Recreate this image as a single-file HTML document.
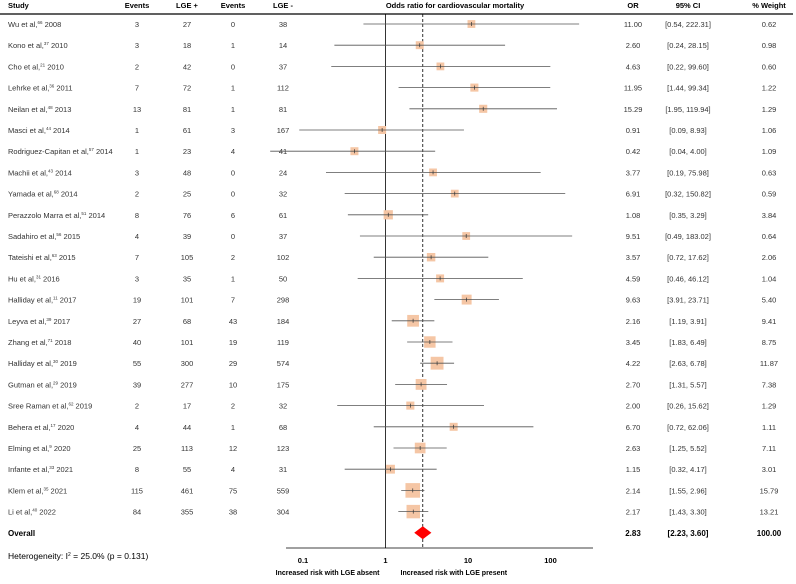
<!DOCTYPE html>
<html><head><meta charset="utf-8"><style>
body{margin:0;background:#fff;font-family:"Liberation Sans",Arial,sans-serif;}
svg text{font-family:"Liberation Sans",Arial,sans-serif;}
</style></head><body>
<svg id="chart" width="796" height="579" xmlns="http://www.w3.org/2000/svg"></svg>
<script>
const studies=["Wu et al,|66| 2008","Kono et al,|37| 2010","Cho et al,|21| 2010","Lehrke et al,|36| 2011","Neilan et al,|48| 2013","Masci et al,|44| 2014","Rodriguez-Capitan et al,|57| 2014","Machii et al,|43| 2014","Yamada et al,|68| 2014","Perazzolo Marra et al,|51| 2014","Sadahiro et al,|56| 2015","Tateishi et al,|63| 2015","Hu et al,|31| 2016","Halliday et al,|11| 2017","Leyva et al,|39| 2017","Zhang et al,|71| 2018","Halliday et al,|30| 2019","Gutman et al,|29| 2019","Sree Raman et al,|62| 2019","Behera et al,|17| 2020","Elming et al,|9| 2020","Infante et al,|33| 2021","Klem et al,|35| 2021","Li et al,|40| 2022"];
const eventsPos=[3,3,2,7,13,1,1,3,2,8,4,7,3,19,27,40,55,39,2,4,25,8,115,84];
const totalPos=[27,18,42,72,81,61,23,48,25,76,39,105,35,101,68,101,300,277,17,44,113,55,461,355];
const eventsNeg=[0,1,0,1,1,3,4,0,0,6,0,2,1,7,43,19,29,10,2,1,12,4,75,38];
const totalNeg=[38,14,37,112,81,167,41,24,32,61,37,102,50,298,184,119,574,175,32,68,123,31,559,304];
const orVals=[11.00,2.60,4.63,11.95,15.29,0.91,0.42,3.77,6.91,1.08,9.51,3.57,4.59,9.63,2.16,3.45,4.22,2.70,2.00,6.70,2.63,1.15,2.14,2.17];
const ciLow=[0.54,0.24,0.22,1.44,1.95,0.09,0.04,0.19,0.32,0.35,0.49,0.72,0.46,3.91,1.19,1.83,2.63,1.31,0.26,0.72,1.25,0.32,1.55,1.43];
const ciHigh=[222.31,28.15,99.60,99.34,119.94,8.93,4.00,75.98,150.82,3.29,183.02,17.62,46.12,23.71,3.91,6.49,6.78,5.57,15.62,62.06,5.52,4.17,2.96,3.30];
const weights=[0.62,0.98,0.60,1.22,1.29,1.06,1.09,0.63,0.59,3.84,0.64,2.06,1.04,5.40,9.41,8.75,11.87,7.38,1.29,1.11,7.11,3.01,15.79,13.21];
const overall=[2.83,2.23,3.60];
const ticks=[0.1,1,10,100];
const NS="http://www.w3.org/2000/svg";
const svg=document.getElementById('chart');
function xs(v){return 385.5+Math.log10(v)*82.5;}
function ys(i){return 24+i*21.2;}
function el(tag,attrs,txt){const e=document.createElementNS(NS,tag);for(const k in attrs)e.setAttribute(k,attrs[k]);if(txt!==undefined)e.textContent=txt;svg.appendChild(e);return e;}
function fmt(v){return v.toFixed(2);}
const hdr=[["Study",8,"start"],["Events",137,"middle"],["LGE +",187,"middle"],["Events",233,"middle"],["LGE -",283,"middle"],["Odds ratio for cardiovascular mortality",455,"middle"],["OR",633,"middle"],["95% CI",688,"middle"],["% Weight",769,"middle"]];
hdr.forEach(h=>{const t=el('text',{x:h[1],y:8,'font-size':7.5,'font-weight':'bold','text-anchor':h[2],fill:'#000'},h[0]);

});
let l=el('line',{x1:0,y1:14,x2:793,y2:14,stroke:'#000','stroke-width':1.3});


l=el('line',{x1:xs(1),y1:14,x2:xs(1),y2:548,stroke:'#000','stroke-width':0.8});


l=el('line',{x1:xs(overall[0]),y1:14,x2:xs(overall[0]),y2:548,stroke:'#000','stroke-width':0.8,'stroke-dasharray':'3,2'});


studies.forEach((s,i)=>{
 const y=ys(i);
 const p=s.split('|');
 const t=el('text',{x:8,y:y+3,'font-size':7.5,fill:'#333'});
 
 
 const a=document.createElementNS(NS,'tspan');a.textContent=p[0];t.appendChild(a);
 const b=document.createElementNS(NS,'tspan');b.textContent=p[1];b.setAttribute('font-size','4.5');b.setAttribute('dy','-3');t.appendChild(b);
 const c=document.createElementNS(NS,'tspan');c.textContent=p[2];c.setAttribute('dy','3');t.appendChild(c);
 [[eventsPos[i],137],[totalPos[i],187],[eventsNeg[i],233],[totalNeg[i],283],[fmt(orVals[i]),633],['['+fmt(ciLow[i])+', '+fmt(ciHigh[i])+']',688],[fmt(weights[i]),769]].forEach(v=>{
  const tt=el('text',{x:v[1],y:y+3,'font-size':7.5,'text-anchor':'middle',fill:'#333'},v[0]);
  
  
 });
 const sz=7.5+0.45*weights[i];
 const r=el('rect',{x:xs(orVals[i])-sz/2,y:y-sz/2,width:sz,height:sz,fill:'#f5c6a5'});
 
 
 const ci=el('line',{x1:xs(ciLow[i]),y1:y,x2:xs(ciHigh[i]),y2:y,stroke:'#555','stroke-width':0.8});
 
 
 const tk=el('line',{x1:xs(orVals[i]),y1:y-2,x2:xs(orVals[i]),y2:y+2,stroke:'#333','stroke-width':0.7});
 
 
});
const oy=ys(studies.length);
let t=el('text',{x:8,y:oy+3,'font-size':8,'font-weight':'bold',fill:'#000'},'Overall');


const dm=el('polygon',{points:`${xs(overall[1])},${oy} ${xs(overall[0])},${oy-6.5} ${xs(overall[2])},${oy} ${xs(overall[0])},${oy+6.5}`,fill:'#ff0000'});


[[fmt(overall[0]),633],['['+fmt(overall[1])+', '+fmt(overall[2])+']',688],['100.00',769]].forEach(v=>{
 const tt=el('text',{x:v[1],y:oy+3,'font-size':8,'font-weight':'bold','text-anchor':'middle',fill:'#000'},v[0]);
 
 
});
t=el('text',{x:8,y:559,'font-size':8.5,fill:'#000'});


t.innerHTML='<tspan>Heterogeneity: I</tspan><tspan font-size="5" dy="-3">2</tspan><tspan dy="3"> = 25.0% (p = 0.131)</tspan>';
l=el('line',{x1:286,y1:548,x2:593,y2:548,stroke:'#000','stroke-width':0.8});


ticks.forEach(v=>{
 const tt=el('text',{x:xs(v),y:563,'font-size':7.5,'font-weight':'bold','text-anchor':'middle',fill:'#000'},String(v));
 
 
});
t=el('text',{x:xs(1)-6,y:575,'font-size':7,'font-weight':'bold','text-anchor':'end',fill:'#000'},'Increased risk with LGE absent');


t=el('text',{x:xs(1)+15,y:575,'font-size':7,'font-weight':'bold','text-anchor':'start',fill:'#000'},'Increased risk with LGE present');


</script>
</body></html>
